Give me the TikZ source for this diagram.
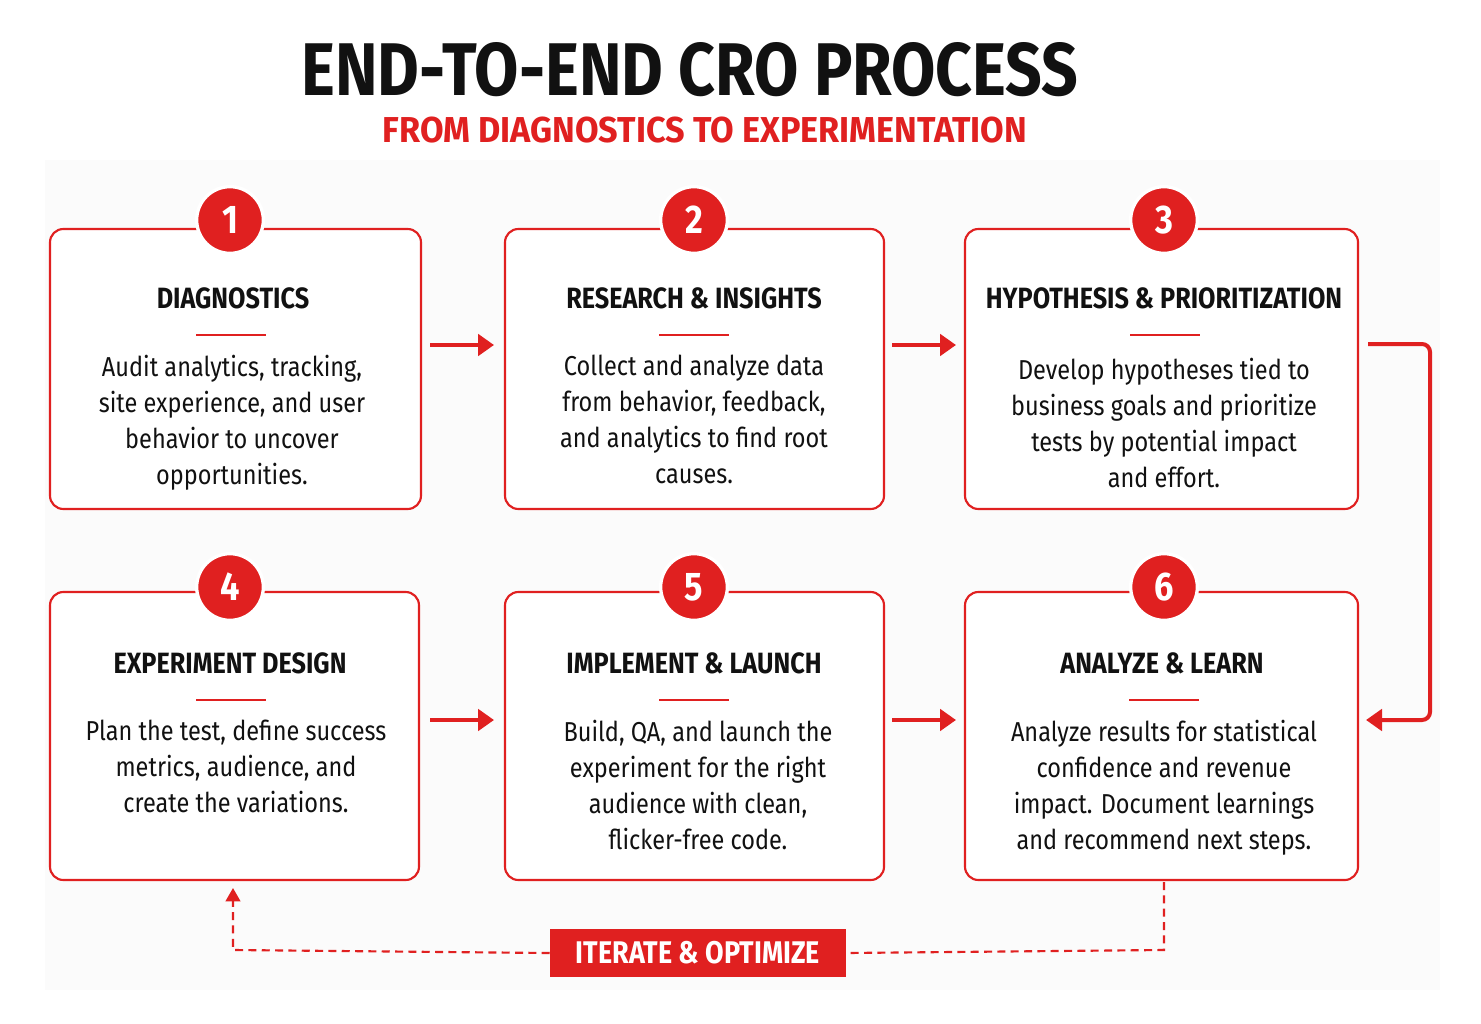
\documentclass[tikz,border=0pt]{standalone}
\usepackage{fontspec}
\setmainfont{Fira Sans}
\newfontfamily\cond[FakeStretch=0.86]{Fira Sans}
\newfontfamily\semicond[FakeStretch=0.95]{Fira Sans}
\usetikzlibrary{arrows.meta}
\definecolor{cred}{HTML}{E02020}
\definecolor{ink}{HTML}{111111}
\begin{document}
\begin{tikzpicture}[x=0.75pt,y=-0.75pt,
  box/.style={draw=cred,line width=1.6pt,rounded corners=10pt},
  num/.style={circle,fill=cred,draw=white,line width=2.5pt,minimum size=50pt,text=white,font=\cond\bfseries\fontsize{30}{30}\selectfont},
  head/.style={text=ink,font=\cond\bfseries\fontsize{22}{26}\selectfont},
  body/.style={text=ink,align=center,font=\cond\fontsize{20.5}{27}\selectfont},
  arr/.style={draw=cred,line width=3pt,-{Triangle[length=12pt,width=16pt]}},
  dashline/.style={draw=cred,line width=1.6pt,dash pattern=on 6pt off 4pt}]
\useasboundingbox[fill=white] (0,0) rectangle (1481,1024);
\fill[gray!3] (45,160) rectangle (1440,990);
\node[text=ink,font=\cond\bfseries\fontsize{56}{58}\selectfont] (title) at (690,70) {END-TO-END CRO PROCESS};
\node[text=cred,font=\semicond\bfseries\fontsize{27}{29}\selectfont] (sub) at (705,130) {FROM DIAGNOSTICS TO EXPERIMENTATION};
\foreach \n/\xa/\xb/\ya/\yb in {1/50/421/229/509,2/505/884/229/509,3/965/1358/229/509,4/50/419/592/880,5/505/884/592/880,6/965/1358/592/880}{
  \draw[box,fill=white] (\xa,\ya) rectangle (\xb,\yb);
}
\foreach \n/\x/\y in {1/230/220,2/694/220,3/1164/220,4/230/587,5/694/587,6/1164/587}{
  \node[num] (c\n) at (\x,\y) {\n};
}
\foreach \n/\x/\y/\t in {1/233/298/DIAGNOSTICS,2/694/298/RESEARCH \& INSIGHTS,3/1164/298/HYPOTHESIS \& PRIORITIZATION,4/230/663/EXPERIMENT DESIGN,5/694/663/IMPLEMENT \& LAUNCH,6/1162/663/ANALYZE \& LEARN}{
  \node[head] (h\n) at (\x,\y) {\t};
}
\foreach \x/\y in {231/335,694/335,1165/335,231/700,694/700,1164/700}{
  \draw[cred,line width=2.2pt] (\x-35,\y) -- (\x+35,\y);
}
\node[body,anchor=north] (t1) at (232,350) {Audit analytics, tracking,\\site experience, and user\\behavior to uncover\\opportunities.};
\node[body,anchor=north] (t2) at (694,350) {Collect and analyze data\\from behavior, feedback,\\and analytics to find root\\causes.};
\node[body,anchor=north] (t3) at (1164,353) {Develop hypotheses tied to\\business goals and prioritize\\tests by potential impact\\and effort.};
\node[body,anchor=north] (t4) at (236,715) {Plan the test, define success\\metrics, audience, and\\create the variations.};
\node[body,anchor=north] (t5) at (698,715) {Build, QA, and launch the\\experiment for the right\\audience with clean,\\flicker-free code.};
\node[body,anchor=north] (t6) at (1164,715) {Analyze results for statistical\\confidence and revenue\\impact. Document learnings\\and recommend next steps.};
\coordinate (a1s) at (430,345); \coordinate (a1e) at (494,345);
\coordinate (a2s) at (892,345); \coordinate (a2e) at (956,345);
\coordinate (a4s) at (430,720); \coordinate (a4e) at (494,720);
\coordinate (a5s) at (892,720); \coordinate (a5e) at (956,720);
\draw[arr] (a1s) -- (a1e);
\draw[arr] (a2s) -- (a2e);
\draw[arr] (a4s) -- (a4e);
\draw[arr] (a5s) -- (a5e);
\coordinate (r1) at (1368,344); \coordinate (r2) at (1366,720);
\draw[draw=cred,line width=3pt,rounded corners=6pt,-{Triangle[length=12pt,width=16pt]}] (r1) -- (1430,344) -- (1430,720) -- (r2);
\node[fill=cred,text=white,minimum width=222pt,minimum height=36pt,font=\cond\bfseries\fontsize{23.5}{25}\selectfont] (it) at (698,953) {ITERATE \& OPTIMIZE};
\coordinate (d1) at (1164,882); \coordinate (d2) at (233,888);
\draw[dashline] (d1) -- (1164,950) -- (it.east);
\draw[dashline,-{Triangle[length=10pt,width=11pt]}] (it.west) -- (233,950) -- (d2);
\end{tikzpicture}
\end{document}
